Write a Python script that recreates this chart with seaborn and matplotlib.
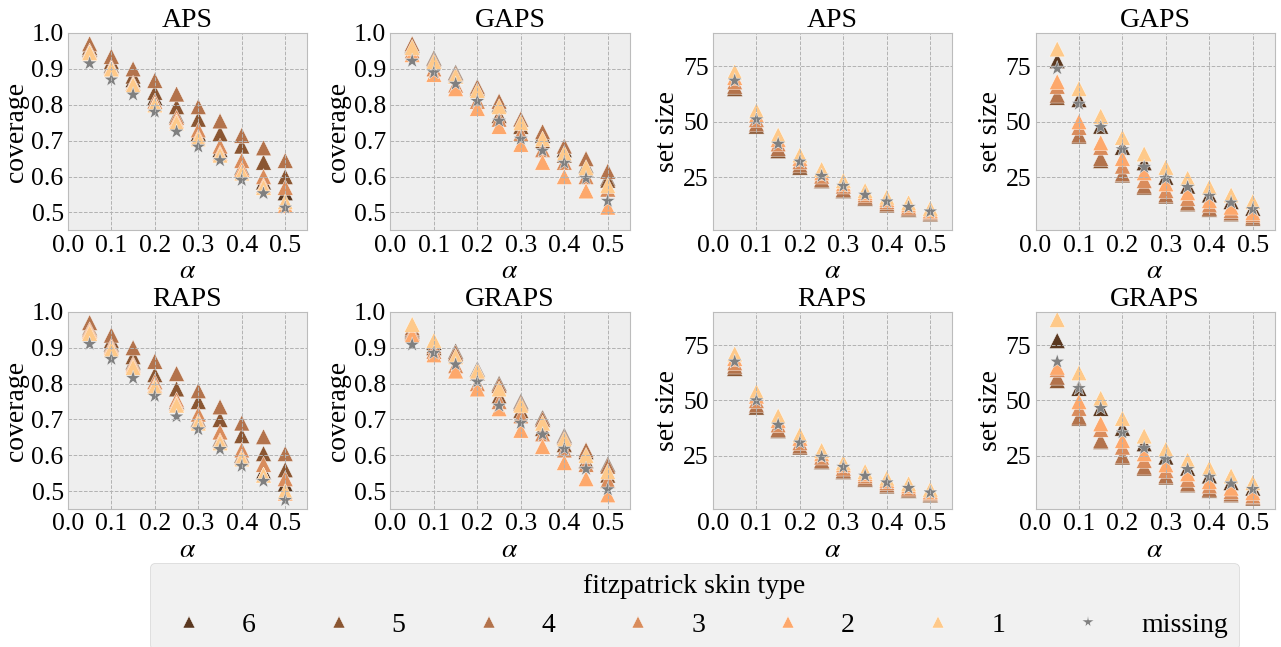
import numpy as np
import pandas as pd
import seaborn as sns
import matplotlib.pyplot as plt

alphas = [0.05, 0.1, 0.15, 0.2, 0.25, 0.3, 0.35, 0.4, 0.45, 0.5]
groups = ['6', '5', '4', '3', '2', '1', 'missing']
colors = ['#5a3820', '#8a5632', '#b3734c', '#d98c5c', '#fda86c', '#fec98a', '#808080']

# coverage, APS
aps_cov = {
    '6': [0.955, 0.91, 0.87, 0.82, 0.77, 0.72, 0.675, 0.625, 0.585, 0.555],
    '5': [0.96, 0.92, 0.88, 0.835, 0.795, 0.76, 0.72, 0.685, 0.64, 0.60],
    '4': [0.97, 0.935, 0.90, 0.868, 0.83, 0.795, 0.755, 0.715, 0.68, 0.645],
    '3': [0.95, 0.905, 0.86, 0.81, 0.765, 0.73, 0.685, 0.645, 0.60, 0.57],
    '2': [0.945, 0.90, 0.855, 0.80, 0.755, 0.71, 0.665, 0.62, 0.575, 0.52],
    '1': [0.945, 0.90, 0.855, 0.80, 0.75, 0.705, 0.66, 0.61, 0.57, 0.53],
    'missing': [0.915, 0.87, 0.828, 0.78, 0.725, 0.683, 0.645, 0.59, 0.553, 0.513],
}
# coverage, GAPS
gaps_cov = {
    '6': [0.965, 0.93, 0.89, 0.85, 0.80, 0.76, 0.715, 0.675, 0.63, 0.595],
    '5': [0.96, 0.92, 0.88, 0.845, 0.77, 0.74, 0.70, 0.66, 0.62, 0.59],
    '4': [0.97, 0.925, 0.885, 0.85, 0.81, 0.76, 0.725, 0.685, 0.65, 0.615],
    '3': [0.95, 0.90, 0.855, 0.81, 0.76, 0.72, 0.675, 0.64, 0.60, 0.565],
    '2': [0.94, 0.885, 0.845, 0.79, 0.74, 0.69, 0.64, 0.60, 0.56, 0.515],
    '1': [0.96, 0.92, 0.88, 0.84, 0.795, 0.75, 0.705, 0.665, 0.625, 0.575],
    'missing': [0.922, 0.89, 0.858, 0.81, 0.755, 0.705, 0.672, 0.638, 0.595, 0.532],
}
# coverage, RAPS
raps_cov = {
    '6': [0.95, 0.91, 0.86, 0.805, 0.75, 0.70, 0.645, 0.60, 0.555, 0.52],
    '5': [0.955, 0.92, 0.875, 0.825, 0.785, 0.75, 0.70, 0.655, 0.605, 0.56],
    '4': [0.97, 0.935, 0.90, 0.862, 0.828, 0.78, 0.735, 0.69, 0.652, 0.605],
    '3': [0.95, 0.905, 0.855, 0.805, 0.755, 0.715, 0.665, 0.615, 0.575, 0.535],
    '2': [0.945, 0.90, 0.85, 0.795, 0.745, 0.695, 0.64, 0.595, 0.545, 0.495],
    '1': [0.94, 0.895, 0.845, 0.79, 0.74, 0.69, 0.635, 0.59, 0.545, 0.50],
    'missing': [0.91, 0.868, 0.815, 0.765, 0.708, 0.672, 0.617, 0.57, 0.528, 0.475],
}
# coverage, GRAPS
graps_cov = {
    '6': [0.95, 0.915, 0.89, 0.84, 0.80, 0.75, 0.705, 0.655, 0.61, 0.575],
    '5': [0.945, 0.90, 0.88, 0.83, 0.765, 0.725, 0.675, 0.63, 0.585, 0.545],
    '4': [0.955, 0.905, 0.885, 0.835, 0.795, 0.745, 0.70, 0.65, 0.615, 0.57],
    '3': [0.94, 0.89, 0.85, 0.80, 0.75, 0.71, 0.66, 0.615, 0.575, 0.53],
    '2': [0.935, 0.88, 0.835, 0.785, 0.73, 0.67, 0.625, 0.58, 0.535, 0.49],
    '1': [0.965, 0.92, 0.875, 0.835, 0.785, 0.74, 0.69, 0.645, 0.60, 0.555],
    'missing': [0.908, 0.885, 0.853, 0.805, 0.738, 0.69, 0.658, 0.618, 0.562, 0.505],
}
# set size, APS
aps_size = {
    '6': [65, 48, 37, 29.5, 23.5, 19, 15.5, 12.5, 10.5, 8.5],
    '5': [65, 48, 37, 29.5, 23.5, 19, 15.5, 12.5, 10.5, 8.5],
    '4': [66, 49, 38, 30.5, 24, 19.5, 16, 13, 11, 9],
    '3': [68, 51, 40, 32, 25.5, 21, 17, 14, 11.5, 9.5],
    '2': [70, 53, 42, 33.5, 27, 22, 18, 15, 12.5, 10],
    '1': [72.5, 55, 44, 35, 28.5, 23.5, 19, 16, 13.5, 11],
    'missing': [68.5, 51, 40, 32, 25.5, 21, 17, 14, 11.5, 9.5],
}
# set size, GAPS
gaps_size = {
    '6': [77.5, 60, 48, 38.5, 31.5, 25, 21, 17, 14, 11],
    '5': [61, 43.5, 32.5, 26, 20.5, 16.5, 13, 10.5, 8.5, 6.5],
    '4': [62, 44, 33.5, 26.5, 21, 17, 13.5, 11, 9, 7],
    '3': [66, 47.5, 38.5, 30, 23.5, 19, 15.5, 12.5, 10, 8],
    '2': [68, 50, 40.5, 33.5, 27, 22, 18, 14.5, 11.5, 9],
    '1': [82.8, 65, 52.5, 43, 35.5, 29.5, 24.5, 20.5, 17, 14],
    'missing': [74, 58, 47.5, 37.5, 29.5, 24.5, 20.5, 16.5, 13.5, 10.5],
}
# set size, RAPS
raps_size = {
    '6': [64.5, 47, 36.5, 29, 22.5, 18, 14.5, 11.5, 9.5, 7.5],
    '5': [64.5, 47, 36.5, 29, 22.5, 18, 14.5, 11.5, 9.5, 7.5],
    '4': [65.5, 48, 37, 29.5, 23, 18.5, 15, 12, 10, 8],
    '3': [67, 50, 39, 31, 24.5, 19.5, 16, 13, 10.5, 8.5],
    '2': [69, 52, 41, 33, 26, 21, 17, 14, 11.5, 9],
    '1': [71, 54, 43, 34.5, 27.5, 22, 18, 15, 12.5, 10],
    'missing': [67.5, 50, 39, 31, 24.5, 20, 16, 13, 10.5, 8.5],
}
# set size, GRAPS
graps_size = {
    '6': [77, 55.5, 46.5, 37.5, 30.5, 24.5, 19.5, 16, 13, 10.5],
    '5': [59, 42, 31.5, 24.5, 19.5, 15.5, 12, 9.5, 7.5, 6],
    '4': [60.5, 42.5, 32, 25, 20, 16, 12.5, 10, 8, 6.5],
    '3': [64, 46.5, 37, 29, 23, 18.5, 14.5, 11.5, 9, 7],
    '2': [65, 49.5, 39.5, 32, 26, 21, 17, 13.5, 10.5, 8.5],
    '1': [86.5, 62.5, 51, 42, 34, 28, 23, 19.5, 16, 13],
    'missing': [67.5, 55.5, 46.5, 35.5, 28.5, 23.5, 19, 15.5, 12.5, 10],
}

panels = [
    ('APS', aps_cov, 'coverage'), ('GAPS', gaps_cov, 'coverage'),
    ('APS', aps_size, 'set size'), ('GAPS', gaps_size, 'set size'),
    ('RAPS', raps_cov, 'coverage'), ('GRAPS', graps_cov, 'coverage'),
    ('RAPS', raps_size, 'set size'), ('GRAPS', graps_size, 'set size'),
]

plt.style.use('bmh')
plt.rcParams['font.family'] = ['Liberation Serif', 'DejaVu Serif']
plt.rcParams['mathtext.fontset'] = 'stix'

palette = dict(zip(groups, colors))
markers = {g: '^' for g in groups[:-1]}
markers['missing'] = '*'

fig, axes = plt.subplots(2, 4, figsize=(12.81, 6.47), dpi=100)
fig.patch.set_facecolor('white')
plt.subplots_adjust(left=0.053, right=0.995, top=0.949, bottom=0.213,
                    wspace=0.349, hspace=0.412)

for ax, (name, data, ylab) in zip(axes.flat, panels):
    rows = []
    for g in groups:
        for a, v in zip(alphas, data[g]):
            rows.append({'alpha': a, 'value': v, 'skin': g})
    df = pd.DataFrame(rows)
    sns.scatterplot(data=df, x='alpha', y='value', hue='skin', style='skin',
                    hue_order=groups, style_order=groups, palette=palette,
                    markers=markers, s=130, edgecolor='white', linewidth=0.3,
                    ax=ax)
    ax.set_title(name, fontsize=20, pad=3)
    ax.set_xlabel('$\\alpha$', fontsize=20, labelpad=2)
    ax.set_ylabel(ylab, fontsize=20, labelpad=2)
    ax.set_xlim(0, 0.55)
    ax.set_xticks([0.0, 0.1, 0.2, 0.3, 0.4, 0.5])
    if ylab == 'coverage':
        ax.set_ylim(0.45, 1.0)
        ax.set_yticks([0.5, 0.6, 0.7, 0.8, 0.9, 1.0])
    else:
        ax.set_ylim(1, 90)
        ax.set_yticks([25, 50, 75])
    ax.tick_params(labelsize=18.5, length=0, pad=3)
    ax.grid(True, linestyle='--', color='#b2b2b2', linewidth=0.7)
    ax.set_facecolor('#eeeeee')
    for sp in ax.spines.values():
        sp.set_color('#bcbcbc')
    handles, labels = ax.get_legend_handles_labels()
    ax.get_legend().remove()

leg = fig.legend(handles, labels, loc='upper center', bbox_to_anchor=(0.542, 0.152),
                 ncol=7, title='fitzpatrick skin type', fontsize=20,
                 title_fontsize=20, columnspacing=2.0, handletextpad=0.9,
                 handlelength=2.0, markerscale=0.75, fancybox=True, frameon=True)
leg.get_frame().set_facecolor('#eeeeee')
leg.get_frame().set_edgecolor('#cccccc')

plt.savefig('out.png', dpi=100)
